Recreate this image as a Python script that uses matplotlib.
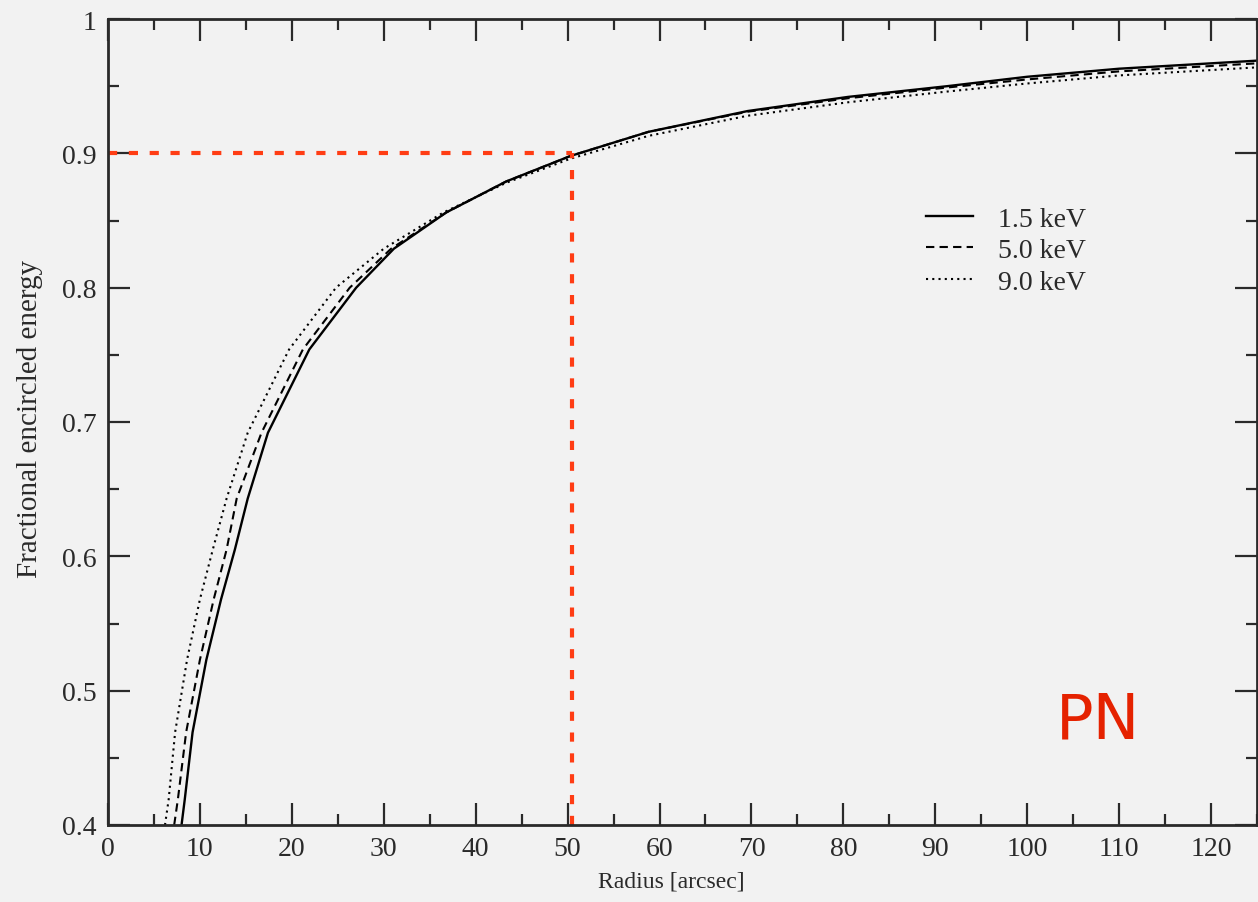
import numpy as np
import matplotlib
matplotlib.use("Agg")
import matplotlib.pyplot as plt
from matplotlib.ticker import MultipleLocator, FuncFormatter

# encircled energy curves (radius in arcsec, fraction)
r_15 = [8.0, 8.35, 9.2, 10.7, 12.3, 13.8, 15.2, 17.4, 21.9, 27.0, 31.1, 36.8,
        43.3, 50.3, 58.8, 69.6, 80.5, 91.3, 100, 110, 125]
ee_15 = [0.40, 0.419, 0.469, 0.523, 0.568, 0.605, 0.643, 0.692, 0.754, 0.80,
         0.829, 0.856, 0.879, 0.898, 0.916, 0.9315, 0.942, 0.950, 0.957, 0.963, 0.969]

r_50 = [7.2, 7.6, 8.5, 10.0, 11.5, 12.9, 14.0, 16.7, 21.2, 26.3, 30.8, 36.8,
        43.3, 50.3, 58.8, 69.6, 80.5, 91.3, 100, 110, 125]
ee_50 = [0.40, 0.419, 0.469, 0.523, 0.568, 0.605, 0.643, 0.692, 0.754, 0.80,
         0.829, 0.856, 0.879, 0.898, 0.916, 0.931, 0.941, 0.949, 0.955, 0.961, 0.967]

r_90 = [6.2, 6.6, 7.3, 8.6, 10.0, 11.4, 12.9, 15.2, 19.7, 24.8, 30.0, 36.5,
        43.3, 50.3, 58.8, 69.6, 80.5, 91.3, 100, 110, 125]
ee_90 = [0.40, 0.419, 0.469, 0.523, 0.568, 0.605, 0.643, 0.692, 0.754, 0.80,
         0.829, 0.856, 0.878, 0.896, 0.913, 0.928, 0.938, 0.946, 0.952, 0.958, 0.964]

labels = ["1.5 keV", "5.0 keV", "9.0 keV"]
r90_mark = 50.5
ee_mark = 0.9

bg = "#f2f2f2"
ink = "#2a2a2a"
red = "#ff3d14"

fig = plt.figure(figsize=(12.58, 9.03), dpi=100, facecolor=bg)
ax = fig.add_axes([108 / 1258, 1 - 826 / 903, 1149 / 1258, 806 / 903], facecolor=bg)

ax.plot(r_15, ee_15, color="black", lw=1.7, ls="-", label=labels[0])
ax.plot(r_50, ee_50, color="black", lw=1.5, ls=(0, (4, 2.5)), label=labels[1])
ax.plot(r_90, ee_90, color="black", lw=1.5, ls=(0, (1, 2)), label=labels[2])

dash = (0, (2.2, 2.8))
ax.plot([0, r90_mark], [ee_mark, ee_mark], color=red, lw=3, ls=dash, clip_on=False)
ax.plot([r90_mark, r90_mark], [0.4, ee_mark], color=red, lw=3, ls=dash)

ax.set_xlim(0, 125)
ax.set_ylim(0.4, 1.0)
ax.xaxis.set_major_locator(MultipleLocator(10))
ax.xaxis.set_minor_locator(MultipleLocator(5))
ax.yaxis.set_major_locator(MultipleLocator(0.1))
ax.yaxis.set_minor_locator(MultipleLocator(0.05))
ax.yaxis.set_major_formatter(FuncFormatter(lambda v, p: "1" if abs(v - 1) < 1e-9 else f"{v:.1f}"))

serif = "Liberation Serif"
ax.tick_params(which="both", direction="in", top=True, right=True, color=ink,
               labelcolor=ink, labelsize=20, width=1.6, pad=8)
ax.tick_params(which="major", length=16)
ax.tick_params(which="minor", length=8)
for lab in ax.get_xticklabels() + ax.get_yticklabels():
    lab.set_fontfamily(serif)
for s in ax.spines.values():
    s.set_color(ink)
    s.set_linewidth(2)

ax.set_xlabel("Radius [arcsec]", fontsize=17, family=serif, color=ink)
ax.set_ylabel("Fractional encircled energy", fontsize=21, family=serif, color=ink)
ax.xaxis.set_label_coords(0.49, -0.057)
ax.yaxis.set_label_coords(-0.0566, 0.505)

leg = ax.legend(loc="upper left", bbox_to_anchor=(0.70, 0.785), frameon=False,
                prop={"family": serif, "size": 20}, handlelength=1.7,
                handletextpad=0.9, labelspacing=0.22, borderpad=0)
for t in leg.get_texts():
    t.set_color(ink)

ax.text(107.7, 0.478, "PN", color="#e52200", fontsize=45, ha="center", va="center",
        family="DejaVu Sans")

fig.savefig("out.png", dpi=100, facecolor=bg)
